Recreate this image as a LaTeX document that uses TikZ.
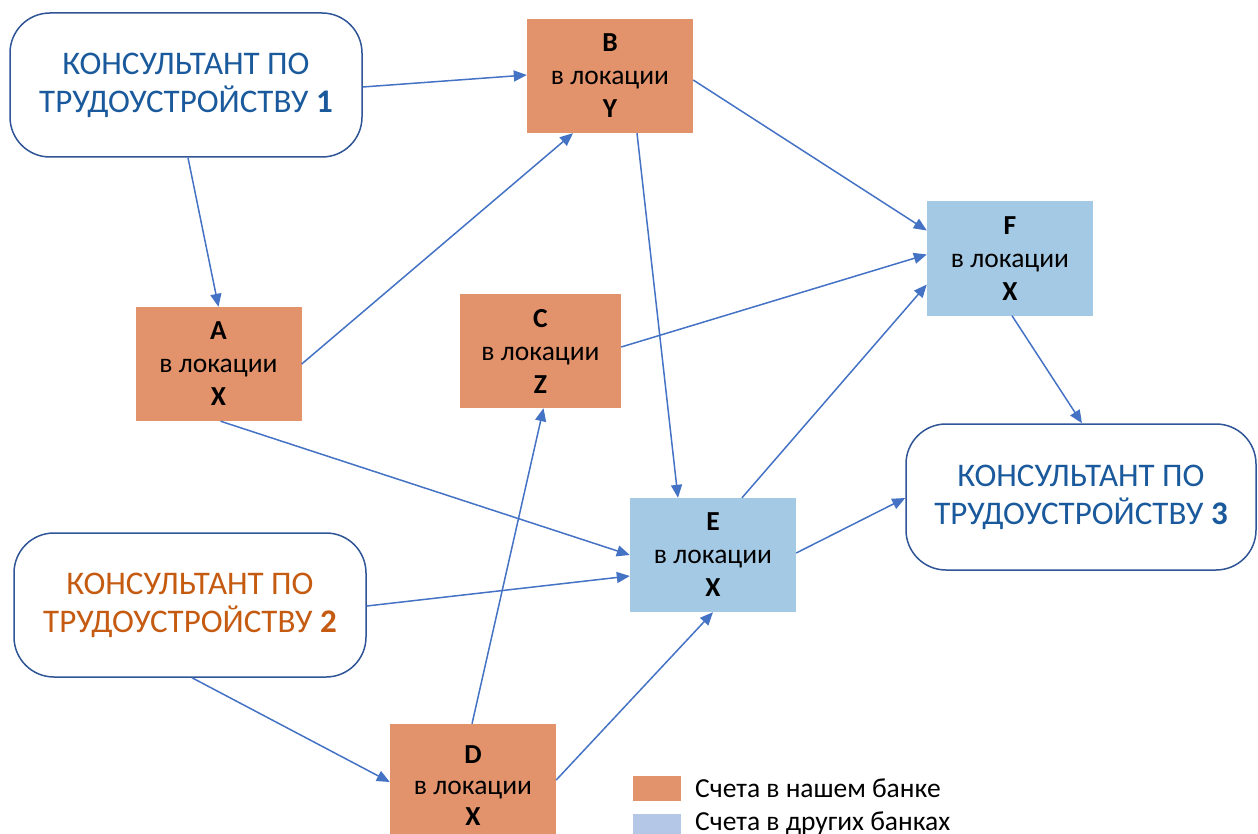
\documentclass[tikz,border=0pt]{standalone}
\usepackage{fontspec}
\setmainfont{Carlito}
\usetikzlibrary{arrows.meta}
\definecolor{acc}{HTML}{E2936B}
\definecolor{oth}{HTML}{A4C9E4}
\definecolor{legblue}{HTML}{B4C7E7}
\definecolor{kblue}{HTML}{1A5A9C}
\definecolor{korange}{HTML}{C55A11}
\definecolor{kborder}{HTML}{2F5597}
\definecolor{arr}{HTML}{4472C4}
\begin{document}
\begin{tikzpicture}[x=1pt,y=-1pt,
  consult/.style={draw=kborder,line width=1.5pt,rounded corners=40pt,fill=white,
    minimum width=352pt,minimum height=144pt,align=center,inner sep=0pt,
    font=\fontsize{33}{38}\selectfont},
  acct/.style={minimum width=166pt,minimum height=114pt,align=center,inner sep=0pt,
    font=\fontsize{27.5}{33}\selectfont},
  ours/.style={acct,fill=acc},
  theirs/.style={acct,fill=oth},
  link/.style={draw=arr,line width=1.5pt,-{Triangle[length=13pt,width=11pt]}}]
\useasboundingbox (0,0) rectangle (1258,834);
\node[consult,text=kblue] (K1) at (186,85) {КОНСУЛЬТАНТ ПО\\ТРУДОУСТРОЙСТВУ \textbf{1}};
\node[consult,text=korange] (K2) at (190,605) {КОНСУЛЬТАНТ ПО\\ТРУДОУСТРОЙСТВУ \textbf{2}};
\node[consult,text=kblue,minimum width=350pt,minimum height=146pt] (K3) at (1081,497) {КОНСУЛЬТАНТ ПО\\ТРУДОУСТРОЙСТВУ \textbf{3}};
\node[ours] (B) at (610,76) {\textbf{B}\\в локации\\\textbf{Y}};
\node[ours] (A) at (218.5,364) {\textbf{A}\\в локации\\\textbf{X}};
\node[ours,minimum width=161pt] (C) at (540.5,351) {\textbf{C}\\в локации\\\textbf{Z}};
\node[theirs] (F) at (1010,258.5) {\textbf{F}\\в локации\\\textbf{X}};
\node[theirs] (E) at (713,555) {\textbf{E}\\в локации\\\textbf{X}};
\node[ours,minimum height=124pt] (D) at (473,786) {\textbf{D}\\[-2pt]в локации\\[-2pt]\textbf{X}};
% legend
\node[fill=acc,minimum width=48pt,minimum height=25pt,inner sep=0pt] (L1) at (657,788.5) {};
\node[fill=legblue,minimum width=48pt,minimum height=25pt,inner sep=0pt] (L2) at (657,826.5) {};
\node[anchor=base west,inner sep=0pt,font=\fontsize{27.5}{30}\selectfont] (T1) at (695,797) {Счета в нашем банке};
\node[anchor=base west,inner sep=0pt,font=\fontsize{27.5}{30}\selectfont] (T2) at (695,830) {Счета в других банках};
% connectors
\draw[link] ([yshift=-2pt]K1.east) -- ([yshift=1pt]B.west);
\draw[link] ([xshift=2pt]K1.south) -- (A.north);
\draw[link] (A.east) -- ([xshift=-37pt]B.south);
\draw[link] ([yshift=-4pt]B.east) -- ([yshift=28pt]F.west);
\draw[link] ([xshift=27pt]B.south) -- ([xshift=-35pt]E.north);
\draw[link] ([yshift=4pt]C.east) -- ([yshift=4pt]F.west);
\draw[link] ([xshift=2pt]A.south) -- (E.west);
\draw[link] ([yshift=-1pt]K2.east) -- ([yshift=-21pt]E.west);
\draw[link] ([xshift=2pt]K2.south) -- ([yshift=4pt]D.west);
\draw[link] ([xshift=-1pt]D.north) -- ([xshift=3pt]C.south);
\draw[link] ([yshift=6pt]D.east) -- (E.south);
\draw[link] ([xshift=29pt]E.north) -- ([yshift=-26pt]F.west);
\draw[link] ([yshift=2pt]E.east) -- ([yshift=-1pt]K3.west);
\draw[link] ([xshift=2pt]F.south) -- ([xshift=1pt]K3.north);
\end{tikzpicture}
\end{document}
